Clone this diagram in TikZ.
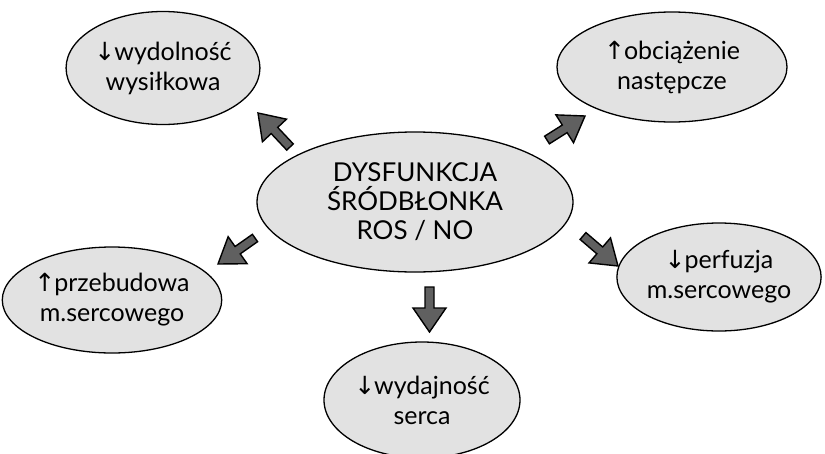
\documentclass[tikz,border=0pt]{standalone}
\usepackage{fontspec}
\setmainfont{Lato}
\newfontfamily\arrowfont{DejaVu Sans}
\usetikzlibrary{shapes.geometric,calc}
\definecolor{ellfill}{RGB}{226,226,226}
\definecolor{arrfill}{RGB}{96,96,96}
\tikzset{
  bubble/.style={ellipse, draw=black, line width=1.3pt, fill=ellfill, inner sep=0pt,
    align=center, font=\fontsize{25}{30}\selectfont},
  blockarr/.style={draw=black, line width=1.4pt, fill=arrfill, line join=miter},
}
\newcommand\up{{\arrowfont\fontsize{25}{25}\selectfont↑}\kern-1pt}
\newcommand\dn{{\arrowfont\fontsize{25}{25}\selectfont↓}\kern-1pt}
\newcommand\blockarrow[2]{%
  \coordinate (#1n) at ($(#2)!24pt!(#1)$);
  \draw[blockarr] ($(#1)!4.5pt!90:(#2)$) -- ($(#1n)!4.5pt!90:(#2)$) -- ($(#1n)!16.5pt!90:(#2)$)
    -- (#2) -- ($(#1n)!16.5pt!-90:(#2)$) -- ($(#1n)!4.5pt!-90:(#2)$) -- ($(#1)!4.5pt!-90:(#2)$) -- cycle;}
\begin{document}
\begin{tikzpicture}[x=1pt,y=-1pt]
\fill[white] (0,0) rectangle (825,453);
\useasboundingbox (0,0) rectangle (825,453);
% nodes
\node[bubble, minimum width=316pt, minimum height=140pt, font=\fontsize{26}{29}\selectfont] (center) at (415,202) {DYSFUNKCJA\\ŚRÓDBŁONKA\\ROS / NO};
\node[bubble, minimum width=186pt, minimum height=113pt] (wyd) at (163,68) {\dn wydolność\\wysiłkowa};
\node[bubble, minimum width=230pt, minimum height=110pt] (obc) at (672,67) {\up obciążenie\\następcze};
\node[bubble, minimum width=206pt, minimum height=106pt] (prz) at (112,300) {\up przebudowa\\m.sercowego};
\node[bubble, minimum width=198pt, minimum height=108pt] (perf) at (719,277) {\dn perfuzja\\m.sercowego};
\node[bubble, minimum width=196pt, minimum height=116pt] (serca) at (422,400) {\dn wydajność\\serca};
% arrows
\coordinate (a1) at (290,147); \coordinate (b1) at (258,113);
\coordinate (a2) at (547,140); \coordinate (b2) at (585,116);
\coordinate (a3) at (255,238); \coordinate (b3) at (218,264);
\coordinate (a4) at (583,236); \coordinate (b4) at (618,266);
\coordinate (a5) at (429.5,287); \coordinate (b5) at (429.5,332);
\blockarrow{a1}{b1}
\blockarrow{a2}{b2}
\blockarrow{a3}{b3}
\blockarrow{a4}{b4}
\blockarrow{a5}{b5}
\end{tikzpicture}
\end{document}
